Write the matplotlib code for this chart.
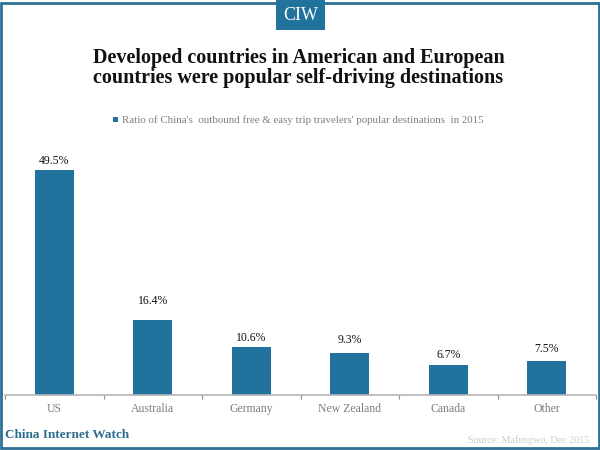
import matplotlib.patches as patches
import matplotlib.pyplot as plt

categories = ["US", "Australia", "Germany", "New Zealand", "Canada", "Other"]
values = [49.5, 16.4, 10.6, 9.3, 6.7, 7.5]
value_labels = ["49.5%", "16.4%", "10.6%", "9.3%", "6.7%", "7.5%"]

BLUE = "#21729c"
FRAME = "#2b7096"
W, H = 600, 450
# labels sit at uneven heights above the bars in the original
label_gaps_px = [9, 19, 9, 13, 10, 12]

plt.rcParams["font.family"] = ["Liberation Serif", "DejaVu Serif"]

fig = plt.figure(figsize=(6, 4.5), dpi=100, facecolor="white")

# axes placed in pixel terms: baseline at y=395, x from 5 to 596
ax = fig.add_axes([5 / W, (H - 395) / H, 591 / W, 260 / H])
positions = list(range(len(categories)))
ax.bar(positions, values, width=0.4, color=BLUE)
ax.set_xlim(-0.5, 5.5)
ax.set_ylim(0, 57.2)
ax.patch.set_visible(False)
for side in ["top", "left", "right"]:
    ax.spines[side].set_visible(False)
ax.spines["bottom"].set_color("#b5b5b5")
ax.spines["bottom"].set_linewidth(1.2)
ax.set_yticks([])
ax.set_xticks([p - 0.5 for p in range(7)], minor=False)
ax.set_xticklabels([])
ax.tick_params(axis="x", length=3, width=0.8, color="#8a8a8a", direction="out")
ax.set_xticks(positions, categories, minor=True)
ax.tick_params(axis="x", which="minor", length=0, pad=6, labelsize=8.5, labelcolor="#7f7f7f")

for p, v, label, gap in zip(positions, values, value_labels, label_gaps_px):
    ax.annotate(label, (p, v), xytext=(0, gap * 0.72), textcoords="offset points",
                ha="center", va="center", fontsize=8.5, color="#111111")

# outer frame and header badge
fig.add_artist(patches.Rectangle((1.2 / W, 2.5 / H), 597.6 / W, 445 / H, transform=fig.transFigure,
                                 fill=False, edgecolor=FRAME, linewidth=2.0))
fig.add_artist(patches.Rectangle((276 / W, 1 - 30 / H), 48.5 / W, 30 / H, transform=fig.transFigure,
                                 facecolor=BLUE, edgecolor="none"))
fig.text(300.5 / W, 1 - 15.5 / H, "CIW", ha="center", va="center", fontsize=13, color="white")

fig.text(298.5 / W, 1 - 58 / H, "Developed countries in American and European",
         ha="center", va="center", fontsize=14.5, fontweight="bold", color="#111111")
fig.text(298.5 / W, 1 - 78 / H, "countries were popular self-driving destinations",
         ha="center", va="center", fontsize=14.5, fontweight="bold", color="#111111")

# legend
fig.add_artist(patches.Rectangle((113 / W, 1 - 122.5 / H), 5 / W, 5 / H, transform=fig.transFigure,
                                 facecolor=BLUE, edgecolor="none"))
fig.text(122 / W, 1 - 120 / H,
         "Ratio of China's  outbound free & easy trip travelers' popular destinations  in 2015",
         ha="left", va="center", fontsize=7.8, color="#7f7f7f")

fig.text(5 / W, 1 - 435 / H, "China Internet Watch", ha="left", va="center",
         fontsize=9.5, fontweight="bold", color="#2b6d8e")
fig.text(589 / W, 1 - 440 / H, "Source: Mafengwo, Dec 2015", ha="right", va="center",
         fontsize=7.3, color="#cccccc")

fig.savefig("out.png", dpi=100)
